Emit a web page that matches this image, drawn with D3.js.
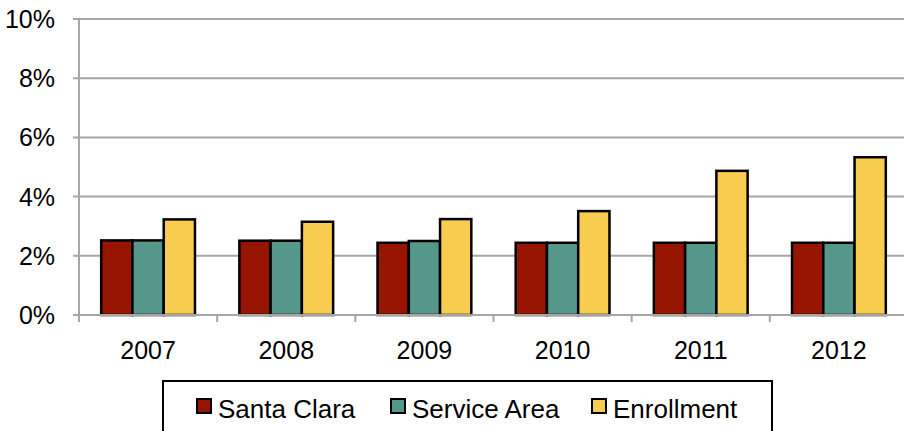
<!DOCTYPE html>
<html><head><meta charset="utf-8">
<script src="https://cdn.jsdelivr.net/npm/d3@7"></script>
<style>
html,body{margin:0;padding:0;background:#fff;}
svg{display:block;font-family:"Liberation Sans",Arial,sans-serif;}
</style></head>
<body><svg id="chart" width="904" height="431"></svg>
<script>
const years = ["2007","2008","2009","2010","2011","2012"];
const seriesNames = ["Santa Clara","Service Area","Enrollment"];
const santaClara = [2.52, 2.51, 2.44, 2.44, 2.44, 2.44];
const serviceArea = [2.52, 2.51, 2.50, 2.44, 2.44, 2.44];
const enrollment = [3.23, 3.15, 3.24, 3.51, 4.87, 5.33];
const yTicks = [0, 2, 4, 6, 8, 10];
const colors = ["#961400", "#55988b", "#f8cd4f"];

const seriesData = [santaClara, serviceArea, enrollment];
const svg = d3.select("#chart");
const m = {left: 79, top: 19};
const W = 829, H = 296;
const g = svg.append("g").attr("transform", `translate(${m.left},${m.top})`);

const x0 = d3.scaleBand().domain(years).range([0, W]).paddingInner(0).paddingOuter(0);
const x1 = d3.scaleBand().domain(seriesNames).range([0, x0.bandwidth()]).paddingInner(0).paddingOuter(0.71);
const y = d3.scaleLinear().domain([0, 10]).range([H, 0]);

const grid = "#a6a6a6";
g.selectAll(".grid").data(yTicks).join("line")
  .attr("x1", -6).attr("x2", W).attr("y1", d => y(d)).attr("y2", d => y(d))
  .attr("stroke", grid).attr("stroke-width", 2);

g.selectAll(".ylab").data(yTicks).join("text")
  .attr("transform", d => `translate(-24,${y(d) + 9}) scale(1,1.06)`)
  .attr("text-anchor", "end").attr("font-size", 25).attr("fill", "#000")
  .text(d => d + "%");

g.append("line").attr("x1", 0).attr("x2", 0).attr("y1", 0).attr("y2", H)
  .attr("stroke", grid).attr("stroke-width", 2);

const bounds = years.map(d => x0(d)).concat([W]);
g.selectAll(".xt").data(bounds).join("line")
  .attr("x1", d => d).attr("x2", d => d).attr("y1", H).attr("y2", H + 7)
  .attr("stroke", grid).attr("stroke-width", 2);

const groups = g.selectAll(".grp").data(years).join("g")
  .attr("transform", d => `translate(${x0(d)},0)`);
groups.selectAll("rect").data((yr, i) => seriesNames.map((s, j) => ({s, j, v: seriesData[j][i]})))
  .join("rect")
  .attr("x", d => x1(d.s)).attr("width", x1.bandwidth())
  .attr("y", d => y(d.v)).attr("height", d => H - y(d.v))
  .attr("fill", d => colors[d.j]).attr("stroke", "#000").attr("stroke-width", 2.5);

g.append("line").attr("x1", 0).attr("x2", W).attr("y1", H).attr("y2", H)
  .attr("stroke", grid).attr("stroke-width", 2);

g.selectAll(".xlab").data(years).join("text")
  .attr("transform", d => `translate(${x0(d) + x0.bandwidth() / 2},${H + 44}) scale(1,1.06)`)
  .attr("text-anchor", "middle").attr("font-size", 25).attr("fill", "#000")
  .text(d => d);

const leg = svg.append("g");
leg.append("rect").attr("x", 163).attr("y", 381).attr("width", 609).attr("height", 70)
  .attr("fill", "#fff").attr("stroke", "#000").attr("stroke-width", 2);
const legX = [197, 391, 592];
seriesNames.forEach((s, i) => {
  leg.append("rect").attr("x", legX[i]).attr("y", 399).attr("width", 14).attr("height", 14)
    .attr("fill", colors[i]).attr("stroke", "#000").attr("stroke-width", 2);
  leg.append("text").attr("x", legX[i] + 21).attr("y", 418)
    .attr("font-size", 26).attr("fill", "#000").text(s);
});
</script></body></html>
